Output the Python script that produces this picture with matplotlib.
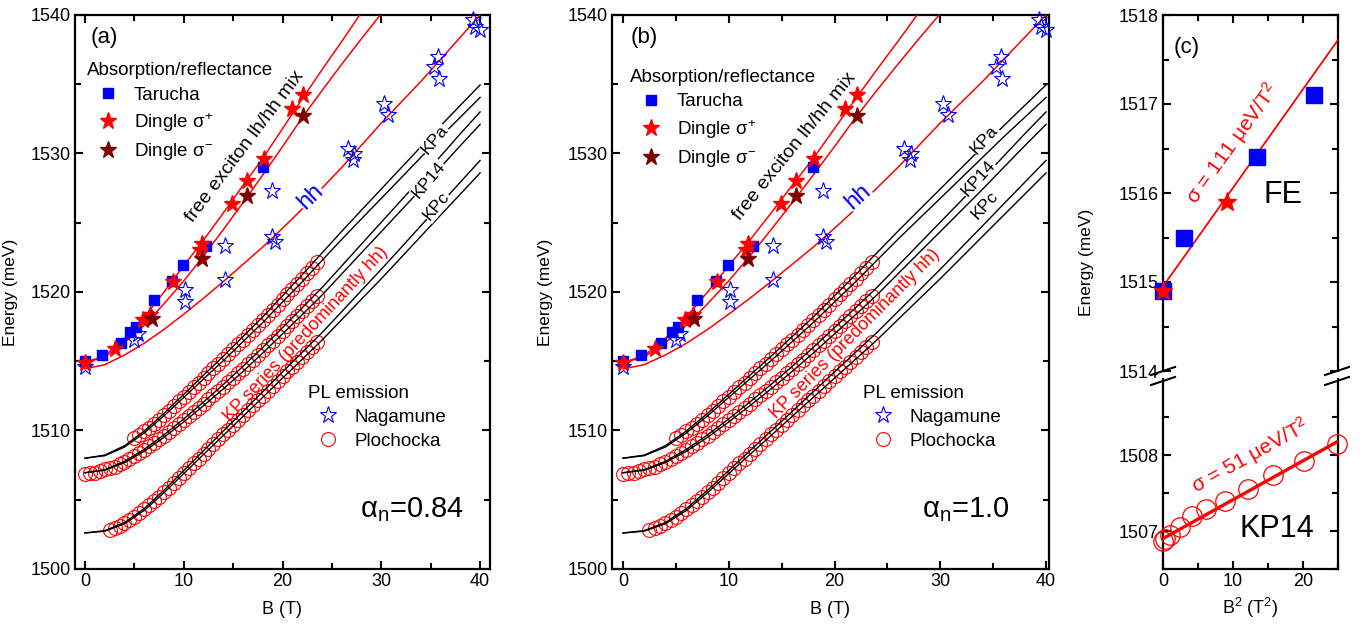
import matplotlib
matplotlib.use('Agg')
import matplotlib.pyplot as plt
from matplotlib.ticker import MultipleLocator
from matplotlib.lines import Line2D

plt.rcParams['font.family'] = ['Liberation Sans', 'DejaVu Sans']
plt.rcParams['mathtext.fontset'] = 'custom'
plt.rcParams['mathtext.rm'] = 'Liberation Sans'
plt.rcParams['mathtext.it'] = 'Liberation Sans:italic'
plt.rcParams['mathtext.bf'] = 'Liberation Sans:bold'

# ---- absorption / reflectance data (B in T, E in meV)
tarucha_B = [0, 1.7, 3.6, 4.6, 5.2, 7.0, 8.8, 9.9, 12.3, 18.0]
tarucha_E = [1515.0, 1515.45, 1516.35, 1517.1, 1517.45, 1519.45, 1520.8, 1521.95, 1523.3, 1529.0]
dingle_p_B = [0, 3.0, 5.9, 6.6, 8.9, 11.6, 11.8, 14.9, 16.4, 18.1, 21.0, 22.1]
dingle_p_E = [1514.9, 1515.85, 1518.0, 1518.35, 1520.7, 1523.05, 1523.5, 1526.35, 1528.0, 1529.6, 1533.2, 1534.25]
dingle_m_B = [6.75, 11.8, 16.4, 22.1]
dingle_m_E = [1518.05, 1522.35, 1526.9, 1532.7]

# ---- PL emission data
nagamune_B = [0, 5.0, 5.4, 10.1, 10.1, 14.2, 14.2, 18.9, 18.9, 19.2, 26.6, 27.2, 27.1,
              30.3, 30.7, 35.3, 35.7, 35.8, 39.3, 39.5, 40.0]
nagamune_E = [1514.55, 1516.55, 1517.0, 1520.15, 1519.25, 1523.35, 1520.9, 1527.3, 1523.95, 1523.6,
              1530.3, 1529.95, 1529.5, 1533.55, 1532.8, 1536.25, 1537.0, 1535.35, 1539.65, 1539.15, 1538.9]

plo_a_B = [5.0, 5.5, 6.0, 6.5, 7.0, 7.5, 8.0, 8.5, 9.0, 9.5, 10.0, 10.5, 11.0, 11.5, 12.0, 12.5,
           13.0, 13.5, 14.0, 14.5, 15.0, 15.5, 16.0, 16.5, 17.0, 17.5, 18.0, 18.5, 19.0, 19.5,
           20.0, 20.5, 21.0, 21.5, 22.0, 22.5, 23.0, 23.5]
plo_a_E = [1509.45, 1509.68, 1509.93, 1510.2, 1510.48, 1510.78, 1511.1, 1511.43, 1511.76, 1512.1,
           1512.44, 1512.78, 1513.12, 1513.46, 1513.8, 1514.14, 1514.48, 1514.82, 1515.16, 1515.51,
           1515.86, 1516.21, 1516.56, 1516.91, 1517.26, 1517.62, 1517.98, 1518.35, 1518.72, 1519.09,
           1519.46, 1519.83, 1520.2, 1520.58, 1520.96, 1521.35, 1521.74, 1522.13]
plo_14_B = [0.0, 0.5, 1.0, 1.5, 2.0, 2.5, 3.0, 3.5, 4.0, 4.5, 5.0, 5.5, 6.0, 6.5, 7.0, 7.5, 8.0,
            8.5, 9.0, 9.5, 10.0, 10.5, 11.0, 11.5, 12.0, 12.5, 13.0, 13.5, 14.0, 14.5, 15.0, 15.5,
            16.0, 16.5, 17.0, 17.5, 18.0, 18.5, 19.0, 19.5, 20.0, 20.5, 21.0, 21.5, 22.0, 22.5,
            23.0, 23.5]
plo_14_E = [1506.87, 1506.9, 1506.95, 1507.05, 1507.2, 1507.29, 1507.39, 1507.55, 1507.74, 1507.92,
            1508.14, 1508.36, 1508.6, 1508.85, 1509.1, 1509.36, 1509.62, 1509.9, 1510.18, 1510.46,
            1510.75, 1511.04, 1511.33, 1511.63, 1511.93, 1512.24, 1512.55, 1512.86, 1513.17, 1513.49,
            1513.81, 1514.13, 1514.46, 1514.79, 1515.12, 1515.46, 1515.8, 1516.14, 1516.48, 1516.83,
            1517.18, 1517.53, 1517.88, 1518.24, 1518.6, 1518.96, 1519.32, 1519.68]
plo_c_B = [2.5, 3.0, 3.5, 4.0, 4.5, 5.0, 5.5, 6.0, 6.5, 7.0, 7.5, 8.0, 8.5, 9.0, 9.5, 10.0, 10.5,
           11.0, 11.5, 12.0, 12.5, 13.0, 13.5, 14.0, 14.5, 15.0, 15.5, 16.0, 16.5, 17.0, 17.5,
           18.0, 18.5, 19.0, 19.5, 20.0, 20.5, 21.0, 21.5, 22.0, 22.5, 23.0, 23.5]
plo_c_E = [1502.85, 1502.95, 1503.1, 1503.3, 1503.52, 1503.77, 1504.03, 1504.3, 1504.6, 1504.9,
           1505.22, 1505.55, 1505.88, 1506.22, 1506.57, 1506.92, 1507.27, 1507.62, 1507.97, 1508.32,
           1508.67, 1509.02, 1509.37, 1509.72, 1510.07, 1510.42, 1510.77, 1511.12, 1511.47, 1511.82,
           1512.17, 1512.52, 1512.87, 1513.22, 1513.57, 1513.92, 1514.27, 1514.62, 1514.97, 1515.32,
           1515.67, 1516.02, 1516.37]

# ---- fitted free exciton curves
fit_up_B = [0, 2, 4, 6, 8, 10, 12, 14, 16, 18, 20, 22, 24, 26, 28]
fit_up_E = [1514.9, 1515.4, 1516.65, 1518.2, 1520.0, 1521.9, 1523.75, 1525.7, 1527.7, 1529.65,
            1531.8, 1533.95, 1536.05, 1538.1, 1540.2]
fit_dn_B = [0, 2, 4, 6, 8, 10, 12, 14, 16, 18, 20, 22, 24, 26, 28, 30]
fit_dn_E = [1514.9, 1515.3, 1516.35, 1517.6, 1519.15, 1520.8, 1522.6, 1524.5, 1526.45, 1528.45,
            1530.5, 1532.6, 1534.55, 1536.45, 1538.3, 1540.1]
fit_hh_B = [0, 2, 4, 6, 8, 10, 12, 14, 16, 18, 20, 22, 24, 26, 28, 30, 32, 34, 36, 38, 40]
fit_hh_E = [1514.45, 1514.75, 1515.45, 1516.3, 1517.3, 1518.4, 1519.55, 1520.75, 1522.0, 1523.25,
            1524.6, 1526.0, 1527.5, 1529.0, 1530.6, 1532.2, 1533.7, 1535.2, 1536.8, 1538.4, 1540.0]

# ---- KP series (spin-split pairs)
kp_B = [0, 2, 4, 6, 8, 10, 12, 14, 16, 18, 20, 22, 24, 26, 28, 30, 32, 34, 36, 38, 40]
kpa_hi = [1508.0, 1508.22, 1508.9, 1509.97, 1511.24, 1512.61, 1513.99, 1515.36, 1516.78, 1518.2,
          1519.73, 1521.25, 1522.82, 1524.39, 1525.92, 1527.44, 1528.96, 1530.48, 1532.0, 1533.48, 1534.95]
kpa_lo = [1508.0, 1508.18, 1508.8, 1509.83, 1511.06, 1512.39, 1513.72, 1515.04, 1516.42, 1517.8,
          1519.28, 1520.75, 1522.28, 1523.81, 1525.29, 1526.76, 1528.24, 1529.72, 1531.2, 1532.62, 1534.05]
kp14_hi = [1506.95, 1507.17, 1507.77, 1508.64, 1509.69, 1510.84, 1512.06, 1513.32, 1514.63, 1516.0,
           1517.43, 1518.87, 1520.32, 1521.89, 1523.47, 1525.04, 1526.61, 1528.18, 1529.81, 1531.43, 1533.0]
kp14_lo = [1506.95, 1507.13, 1507.68, 1508.5, 1509.51, 1510.62, 1511.79, 1513.0, 1514.27, 1515.6,
           1516.98, 1518.37, 1519.78, 1521.31, 1522.84, 1524.36, 1525.89, 1527.42, 1529.0, 1530.57, 1532.1]
kpc_hi = [1502.6, 1502.77, 1503.35, 1504.37, 1505.69, 1507.11, 1508.54, 1509.96, 1511.38, 1512.8,
          1514.23, 1515.65, 1517.07, 1518.59, 1520.12, 1521.64, 1523.21, 1524.78, 1526.36, 1527.93, 1529.5]
kpc_lo = [1502.6, 1502.73, 1503.26, 1504.23, 1505.51, 1506.89, 1508.27, 1509.64, 1511.02, 1512.4,
          1513.78, 1515.15, 1516.53, 1518.01, 1519.49, 1520.96, 1522.49, 1524.02, 1525.55, 1527.07, 1528.6]

# ---- panel (c): energies vs B^2
fe_sq_B2 = [0.0, 3.0, 13.4, 21.5]
fe_sq_E = [1514.9, 1515.5, 1516.4, 1517.1]
fe_st_B2 = [0.0, 9.1]
fe_st_E = [1514.9, 1515.9]
fe_fit_B2 = [0, 25]
fe_fit_E = [1514.95, 1517.72]
kp14_B2 = [0.0, 0.3, 1.0, 2.4, 4.1, 6.2, 8.9, 12.2, 15.7, 20.1, 24.8]
kp14_B2_E = [1506.87, 1506.9, 1506.95, 1507.05, 1507.2, 1507.29, 1507.39, 1507.55, 1507.74, 1507.92, 1508.14]
kp14_fit_B2 = [0, 25]
kp14_fit_E = [1506.9, 1508.18]

RED = '#ff0000'
BLUE = '#0000ff'
DARKRED = '#7f0000'
W, H = 1365, 629


def style(ax, xmaj, xmin, ymaj, ymin):
    ax.xaxis.set_major_locator(MultipleLocator(xmaj))
    ax.xaxis.set_minor_locator(MultipleLocator(xmin))
    ax.yaxis.set_major_locator(MultipleLocator(ymaj))
    ax.yaxis.set_minor_locator(MultipleLocator(ymin))
    ax.tick_params(which='both', direction='in', top=True, right=True, width=1.5,
                   labelsize=13, pad=3)
    ax.tick_params(which='major', length=6)
    ax.tick_params(which='minor', length=4.5)
    for s in ax.spines.values():
        s.set_linewidth(1.6)


def field_panel(ax, xlim, tag, alpha_txt, alpha_x, kp_pos, kp_rot, txt_rot, leg1_xy, leg2_xy, hh_x, kps_x):
    for b, e in ((plo_a_B, plo_a_E), (plo_14_B, plo_14_E), (plo_c_B, plo_c_E)):
        h_plo, = ax.plot(b, e, 'o', ms=10, mfc='none', mec=RED, mew=0.8, zorder=2)
    for e in (kpa_hi, kpa_lo, kp14_hi, kp14_lo, kpc_hi, kpc_lo):
        ax.plot(kp_B, e, color='k', lw=1.0, zorder=3)
    for b, e in ((fit_up_B, fit_up_E), (fit_dn_B, fit_dn_E), (fit_hh_B, fit_hh_E)):
        ax.plot(b, e, color=RED, lw=1.1, zorder=4)
    h_nag, = ax.plot(nagamune_B, nagamune_E, '*', ms=12.5, mfc='none', mec=BLUE, mew=0.8,
                     zorder=5, clip_on=False)
    h_tar, = ax.plot(tarucha_B, tarucha_E, 's', ms=7, color=BLUE, mec=BLUE, zorder=6, clip_on=False)
    h_dp, = ax.plot(dingle_p_B, dingle_p_E, '*', ms=12.5, color=RED, zorder=7, clip_on=False)
    h_dm, = ax.plot(dingle_m_B, dingle_m_E, '*', ms=12.5, color=DARKRED, zorder=7, clip_on=False)

    ax.set_xlim(*xlim)
    ax.set_ylim(1500, 1540)
    style(ax, 10, 5, 10, 5)
    ax.set_xlabel('B (T)', fontsize=13)
    ax.set_ylabel('Energy (meV)', fontsize=12.5)

    ax.text(2.0, 1538.4, tag, fontsize=16, ha='center', va='center')
    ax.text(16.2, 1530.5, 'free exciton lh/hh mix', fontsize=14, rotation=txt_rot[0],
            ha='center', va='center', rotation_mode='anchor', zorder=8)
    ax.text(hh_x, 1526.9, 'hh', fontsize=17, color=BLUE, rotation=txt_rot[1], ha='center',
            va='center', rotation_mode='anchor', zorder=8,
            bbox=dict(fc='white', ec='none', pad=0.3))
    ax.text(kps_x, 1516.95, 'KP series (predominantly hh)', fontsize=13, color=RED,
            rotation=txt_rot[2], ha='center', va='center', rotation_mode='anchor', zorder=8)
    for name, (bx, ey) in zip(('KPa', 'KP14', 'KPc'), kp_pos):
        ax.text(bx, ey, name, fontsize=12.5, rotation=kp_rot, ha='center', va='center',
                rotation_mode='anchor', zorder=8, bbox=dict(fc='white', ec='none', pad=0.4))
    ax.text(alpha_x, 1504.3, alpha_txt, fontsize=21, ha='center', va='center')

    kw = dict(frameon=False, fontsize=13.5, title_fontsize=13.5, alignment='left',
              handlelength=2.2, handletextpad=0.3, borderpad=0, borderaxespad=0,
              numpoints=1, loc='upper left')
    leg1 = ax.legend([h_tar, h_dp, h_dm], ['Tarucha', 'Dingle σ$^{+}$', 'Dingle σ$^{-}$'],
                     title='Absorption/reflectance', bbox_to_anchor=leg1_xy,
                     labelspacing=0.4, **kw)
    ax.add_artist(leg1)
    ax.legend([h_nag, h_plo], ['Nagamune', 'Plochocka'], title='PL emission',
              bbox_to_anchor=leg2_xy, labelspacing=0.36, **kw)


fig = plt.figure(figsize=(W / 100, H / 100), dpi=100)

ax_a = fig.add_axes([75 / W, 60 / H, 415 / W, 554 / H])
field_panel(ax_a, (-1.01, 41.0), '(a)', r'α$_\mathregular{n}$=0.84', 33.1,
            [(35.4, 1531.0), (34.8, 1528.1), (35.6, 1526.2)], 50, (53, 44, 47),
            (0.029, 0.915), (0.561, 0.332), 22.8, 22.4)
ax_a.yaxis.set_label_coords(-0.137, 0.5)
ax_a.xaxis.set_label_coords(0.5, -0.058)

ax_b = fig.add_axes([612 / W, 60 / H, 437 / W, 554 / H])
field_panel(ax_b, (-1.04, 40.28), '(b)', r'α$_\mathregular{n}$=1.0', 32.4,
            [(34.2, 1531.0), (33.6, 1528.2), (34.2, 1526.3)], 48, (51, 42, 45),
            (0.041, 0.903), (0.574, 0.332), 22.2, 21.9)
ax_b.yaxis.set_label_coords(-0.135, 0.5)
ax_b.xaxis.set_label_coords(0.5, -0.058)

# ---- panel (c): broken energy axis
ax_cu = fig.add_axes([1163 / W, (H - 371) / H, 175 / W, 356 / H])
ax_cl = fig.add_axes([1163 / W, 60 / H, 175 / W, 190 / H])

ax_cu.plot(fe_fit_B2, fe_fit_E, color=RED, lw=1.3, zorder=3)
ax_cu.plot(fe_sq_B2, fe_sq_E, 's', ms=12, color=BLUE, zorder=4, clip_on=False)
ax_cu.plot(fe_st_B2, fe_st_E, '*', ms=14, color=RED, zorder=5, clip_on=False)
ax_cu.set_xlim(0, 25)
ax_cu.set_ylim(1514, 1518)
style(ax_cu, 10, 5, 1, 0.5)
ax_cu.spines['bottom'].set_visible(False)
ax_cu.tick_params(which='both', bottom=False, labelbottom=False)
ax_cu.text(3.4, 1517.64, '(c)', fontsize=16, ha='center', va='center')
ax_cu.text(10.0, 1516.56, 'σ = 111 μeV/T$^{2}$', fontsize=15, color=RED, rotation=54,
           ha='center', va='center', rotation_mode='anchor')
ax_cu.text(17.1, 1515.98, 'FE', fontsize=22, ha='center', va='center')

ax_cl.plot(kp14_fit_B2, kp14_fit_E, color=RED, lw=2.4, zorder=3)
ax_cl.plot(kp14_B2, kp14_B2_E, 'o', ms=14, mfc='none', mec=RED, mew=0.9, zorder=4, clip_on=False)
ax_cl.set_xlim(0, 25)
ax_cl.set_ylim(1506.5, 1509.0)
style(ax_cl, 10, 5, 1, 0.5)
ax_cl.spines['top'].set_visible(False)
ax_cl.tick_params(which='both', top=False)
ax_cl.set_yticks([1507, 1508])
ax_cl.set_yticks([1506.5, 1507.5, 1508.5], minor=True)
ax_cl.text(12.4, 1507.99, 'σ = 51 μeV/T$^{2}$', fontsize=15, color=RED, rotation=29,
           ha='center', va='center', rotation_mode='anchor')
ax_cl.text(16.3, 1507.03, 'KP14', fontsize=22, ha='center', va='center')
ax_cl.set_xlabel('B$^{2}$ (T$^{2}$)', fontsize=13)
ax_cl.xaxis.set_label_coords(0.5, -0.14)

fig.text(1087 / W, 1 - 262 / H, 'Energy (meV)', rotation=90, ha='center', va='center', fontsize=12.5)

# break marks on both spines
for px in (1163, 1337):
    for py in (371, 381):
        x0, x1 = (px - 12) / W, (px + 12) / W
        y0, y1 = 1 - (py + 4) / H, 1 - (py - 4) / H
        fig.add_artist(Line2D([x0, x1], [y0, y1], color='k', lw=1.5, transform=fig.transFigure))

fig.savefig('out.png', dpi=100)
